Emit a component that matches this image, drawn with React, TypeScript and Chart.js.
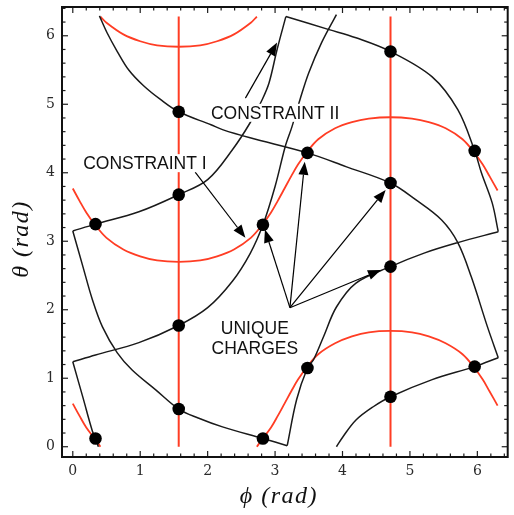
import React, { useEffect, useRef } from 'react';
import { Chart, registerables } from 'chart.js';

Chart.register(...registerables);

// Axis tick values (radians)
const phiTicks = [0, 1, 2, 3, 4, 5, 6];
const thetaTicks = [0, 1, 2, 3, 4, 5, 6];

// Vertical constraint lines at φ = π/2 and φ = 3π/2
const verticalLinePhi = [1.571, 4.712];
const verticalLineTheta = [0, 6.283];

// Constraint I (red) curves
const redTopPhi = [0.41, 0.5, 0.75, 1.0, 1.25, 1.571, 1.89, 2.14, 2.39, 2.64, 2.73];
const redTopTheta = [6.28, 6.19, 6.02, 5.92, 5.86, 5.84, 5.86, 5.92, 6.02, 6.19, 6.28];

const redMidPhi = [0, 0.1, 0.2, 0.33, 0.5, 0.75, 1.0, 1.25, 1.571, 1.89, 2.14, 2.39, 2.64, 2.81, 2.94, 3.04, 3.14, 3.24, 3.34, 3.47, 3.64, 3.89, 4.14, 4.39, 4.712, 5.03, 5.28, 5.53, 5.78, 5.95, 6.08, 6.18, 6.30];
const redMidTheta = [3.77, 3.59, 3.42, 3.24, 3.05, 2.88, 2.78, 2.72, 2.70, 2.72, 2.78, 2.88, 3.05, 3.24, 3.42, 3.59, 3.77, 3.95, 4.12, 4.30, 4.49, 4.65, 4.74, 4.79, 4.81, 4.79, 4.74, 4.65, 4.49, 4.30, 4.12, 3.95, 3.74];

const redLowLeftPhi = [0, 0.1, 0.2, 0.33, 0.41];
const redLowLeftTheta = [0.63, 0.45, 0.28, 0.11, 0];

const redLowRightPhi = [2.73, 2.81, 2.94, 3.04, 3.14, 3.24, 3.34, 3.47, 3.64, 3.89, 4.14, 4.39, 4.712, 5.03, 5.28, 5.53, 5.78, 5.95, 6.08, 6.18, 6.30];
const redLowRightTheta = [0, 0.11, 0.28, 0.45, 0.63, 0.81, 0.98, 1.16, 1.35, 1.51, 1.61, 1.67, 1.69, 1.67, 1.61, 1.51, 1.35, 1.16, 0.98, 0.81, 0.60];

// Constraint II (black) curves; the corner lists mark the sharp kinks
const loopPhi = [0, 0.337, 0.98, 1.571, 2.0, 2.37, 2.63, 2.81, 2.91, 3.03, 3.16, 3.8, 4.2, 4.712, 5.33, 5.71, 5.96, 6.06, 6.22, 6.31, 5.71, 5.22, 4.712, 4.2, 3.91, 3.72, 3.57, 3.48, 3.32, 3.18, 2.82, 2.22, 1.86, 1.571, 1.23, 0.88, 0.66, 0.44, 0.29, 0.15, 0];
const loopTheta = [3.15, 3.25, 3.43, 3.68, 3.9, 4.34, 4.73, 5.07, 5.31, 5.8, 6.28, 6.09, 5.97, 5.77, 5.4, 4.92, 4.32, 4.0, 3.56, 3.14, 2.98, 2.83, 2.63, 2.39, 2.04, 1.61, 1.27, 1.15, 0.69, 0.015, 0.12, 0.29, 0.42, 0.55, 0.83, 1.12, 1.37, 1.75, 2.15, 2.63, 3.15];
const loopCorners = [0, 10, 19, 29, 40];

const risingPhi = [0.38, 0.337, 0.29, 0.15, 0, 0.337, 0.98, 1.571, 2.0, 2.37, 2.63, 2.82, 3.0, 3.15, 3.25, 3.37, 3.5, 3.69, 3.91];
const risingTheta = [0, 0.12, 0.23, 0.72, 1.24, 1.34, 1.52, 1.77, 2.03, 2.42, 2.82, 3.24, 3.8, 4.38, 4.67, 5.07, 5.46, 5.9, 6.31];
const risingCorners = [0, 4, 18];

const fallingPhi = [0.395, 0.51, 0.66, 0.83, 1.05, 1.3, 1.571, 2.05, 2.22, 2.63, 3.48, 4.05, 4.712, 5.08, 5.47, 5.71, 5.91, 6.15, 6.31, 5.96, 5.33, 4.712, 4.45, 4.2, 4.01, 3.91];
const fallingTheta = [6.29, 6.04, 5.77, 5.5, 5.27, 5.07, 4.89, 4.7, 4.63, 4.51, 4.29, 4.09, 3.85, 3.61, 3.31, 2.98, 2.48, 1.75, 1.3, 1.17, 0.98, 0.73, 0.58, 0.39, 0.15, 0];
const fallingCorners = [0, 18, 25];

// Charge positions where the constraints intersect
const chargePhi = [0.337, 0.337, 1.571, 1.571, 1.571, 1.571, 2.82, 2.82, 3.48, 3.48, 4.712, 4.712, 4.712, 4.712, 5.96, 5.96];
const chargeTheta = [3.25, 0.12, 4.89, 3.68, 1.77, 0.55, 3.24, 0.12, 4.29, 1.15, 5.77, 3.85, 2.63, 0.73, 4.32, 1.17];

// Annotation labels (centre positions in φ, θ)
const noteText = ['CONSTRAINT II', 'CONSTRAINT I', 'UNIQUE', 'CHARGES'];
const notePhi = [3.0, 1.07, 2.70, 2.70];
const noteTheta = [4.875, 4.14, 1.73, 1.445];

// Annotation arrows (tail → head in φ, θ)
const arrowFromPhi = [2.56, 1.815, 3.22, 3.22, 3.22, 3.22];
const arrowFromTheta = [5.09, 4.01, 2.03, 2.03, 2.03, 2.03];
const arrowToPhi = [3.03, 2.56, 2.85, 3.44, 4.64, 4.57];
const arrowToTheta = [5.9, 3.05, 3.17, 4.16, 3.75, 2.58];

const pts = (xs: number[], ys: number[]) => xs.map((x, i) => ({ x, y: ys[i] }));

// split a polyline into smooth pieces between its corner indices
const pieces = (xs: number[], ys: number[], corners: number[]) =>
  corners.slice(1).map((end, i) => pts(xs.slice(corners[i], end + 1), ys.slice(corners[i], end + 1)));

const RED = '#ff3d24';
const INK = '#1a1a1a';

const framePlugin = {
  id: 'mathFrame',
  afterDraw(chart: any) {
    const { ctx, chartArea: a, scales } = chart;
    const xs = scales.x;
    const ys = scales.y;
    ctx.save();

    const seg = (x1: number, y1: number, x2: number, y2: number) => {
      ctx.beginPath();
      ctx.moveTo(x1, y1);
      ctx.lineTo(x2, y2);
      ctx.stroke();
    };

    // inward ticks on all four sides, minor every 0.2
    ctx.strokeStyle = '#1e1e1e';
    ctx.lineWidth = 1.2;
    const step = 0.2;
    for (let k = Math.ceil(xs.min / step); k * step <= xs.max + 1e-9; k++) {
      const len = k % 5 === 0 ? 6 : 3.5;
      const px = xs.getPixelForValue(k * step);
      seg(px, a.bottom, px, a.bottom - len);
      seg(px, a.top, px, a.top + len);
    }
    for (let k = Math.ceil(ys.min / step); k * step <= ys.max + 1e-9; k++) {
      const len = k % 5 === 0 ? 6 : 3.5;
      const py = ys.getPixelForValue(k * step);
      seg(a.left, py, a.left + len, py);
      seg(a.right, py, a.right - len, py);
    }

    // frame
    ctx.lineWidth = 2;
    ctx.strokeStyle = '#111';
    ctx.strokeRect(a.left, a.top, a.right - a.left, a.bottom - a.top);

    // arrows
    ctx.strokeStyle = '#000';
    ctx.fillStyle = '#000';
    ctx.lineWidth = 1.2;
    arrowFromPhi.forEach((_, i) => {
      const x1 = xs.getPixelForValue(arrowFromPhi[i]);
      const y1 = ys.getPixelForValue(arrowFromTheta[i]);
      const x2 = xs.getPixelForValue(arrowToPhi[i]);
      const y2 = ys.getPixelForValue(arrowToTheta[i]);
      const ang = Math.atan2(y2 - y1, x2 - x1);
      const hl = 13;
      const hw = 5;
      const bx = x2 - hl * Math.cos(ang);
      const by = y2 - hl * Math.sin(ang);
      seg(x1, y1, bx, by);
      ctx.beginPath();
      ctx.moveTo(x2, y2);
      ctx.lineTo(bx + hw * Math.sin(ang), by - hw * Math.cos(ang));
      ctx.lineTo(bx - hw * Math.sin(ang), by + hw * Math.cos(ang));
      ctx.closePath();
      ctx.fill();
    });

    // annotation labels on white backing
    ctx.font = "17.5px 'Liberation Sans', Arial, sans-serif";
    ctx.textAlign = 'center';
    ctx.textBaseline = 'middle';
    noteText.forEach((t, i) => {
      const cx = xs.getPixelForValue(notePhi[i]);
      const cy = ys.getPixelForValue(noteTheta[i]);
      const w = ctx.measureText(t).width;
      ctx.fillStyle = '#fff';
      ctx.fillRect(cx - w / 2 - 2, cy - 9, w + 4, 18);
      ctx.fillStyle = '#111';
      ctx.fillText(t, cx, cy + 1);
    });

    // axis titles
    ctx.fillStyle = '#111';
    ctx.font = "italic 24px 'Liberation Serif', 'DejaVu Serif', serif";
    (ctx as any).letterSpacing = '1.5px';
    ctx.textAlign = 'center';
    ctx.textBaseline = 'middle';
    ctx.fillText('ϕ (rad)', (a.left + a.right) / 2 - 6, a.bottom + 40);
    ctx.translate(22, (a.top + a.bottom) / 2 + 7);
    ctx.rotate(-Math.PI / 2);
    ctx.fillText('θ (rad)', 0, 0);

    ctx.restore();
  },
};

export default function App() {
  const ref = useRef<HTMLCanvasElement>(null);

  useEffect(() => {
    const canvas = ref.current;
    if (!canvas) return;

    const lineDs = (data: any[], color: string, width: number, tension = 0.35) => ({
      data,
      borderColor: color,
      borderWidth: width,
      showLine: true,
      pointRadius: 0,
      pointHoverRadius: 0,
      fill: false,
      tension,
    });

    const blackPieces = [
      ...pieces(loopPhi, loopTheta, loopCorners),
      ...pieces(risingPhi, risingTheta, risingCorners),
      ...pieces(fallingPhi, fallingTheta, fallingCorners),
    ];

    const tickFont = { family: "'DejaVu Serif', serif", size: 14 };

    const chart = new Chart(canvas, {
      type: 'scatter',
      data: {
        datasets: [
          {
            data: pts(chargePhi, chargeTheta),
            pointRadius: 6.3,
            pointHoverRadius: 6.3,
            pointBackgroundColor: '#000',
            pointBorderWidth: 0,
            showLine: false,
          } as any,
          ...blackPieces.map((p) => lineDs(p, INK, 1.5)),
          lineDs(pts(redTopPhi, redTopTheta), RED, 1.8),
          lineDs(pts(redMidPhi, redMidTheta), RED, 1.8),
          lineDs(pts(redLowLeftPhi, redLowLeftTheta), RED, 1.8),
          lineDs(pts(redLowRightPhi, redLowRightTheta), RED, 1.8),
          ...verticalLinePhi.map((p) => lineDs(pts([p, p], verticalLineTheta), RED, 2, 0)),
        ],
      },
      options: {
        animation: false,
        responsive: true,
        maintainAspectRatio: false,
        devicePixelRatio: 1,
        events: [],
        layout: { padding: { top: 7, right: 0, bottom: 0, left: 0 } },
        plugins: { legend: { display: false }, tooltip: { enabled: false } },
        scales: {
          x: {
            type: 'linear',
            min: -0.16,
            max: 6.45,
            grid: { display: false, drawTicks: false },
            border: { display: false },
            afterBuildTicks: (s: any) => {
              s.ticks = phiTicks.map((v) => ({ value: v }));
            },
            afterFit: (s: any) => {
              s.height = 58;
              s.paddingLeft = 0;
              s.paddingRight = 0;
            },
            ticks: { padding: 6, color: '#2a2a2a', font: tickFont, maxRotation: 0, autoSkip: false },
          },
          y: {
            type: 'linear',
            min: -0.15,
            max: 6.42,
            grid: { display: false, drawTicks: false },
            border: { display: false },
            afterBuildTicks: (s: any) => {
              s.ticks = thetaTicks.map((v) => ({ value: v }));
            },
            afterFit: (s: any) => {
              s.width = 62;
              s.paddingTop = 0;
              s.paddingBottom = 0;
            },
            ticks: { padding: 7, color: '#2a2a2a', font: tickFont, autoSkip: false },
          },
        },
      } as any,
      plugins: [framePlugin],
    });

    return () => chart.destroy();
  }, []);

  return (
    <div style={{ position: 'fixed', left: 0, top: 0, width: 514, height: 515, background: '#fff' }}>
      <canvas ref={ref} />
    </div>
  );
}
